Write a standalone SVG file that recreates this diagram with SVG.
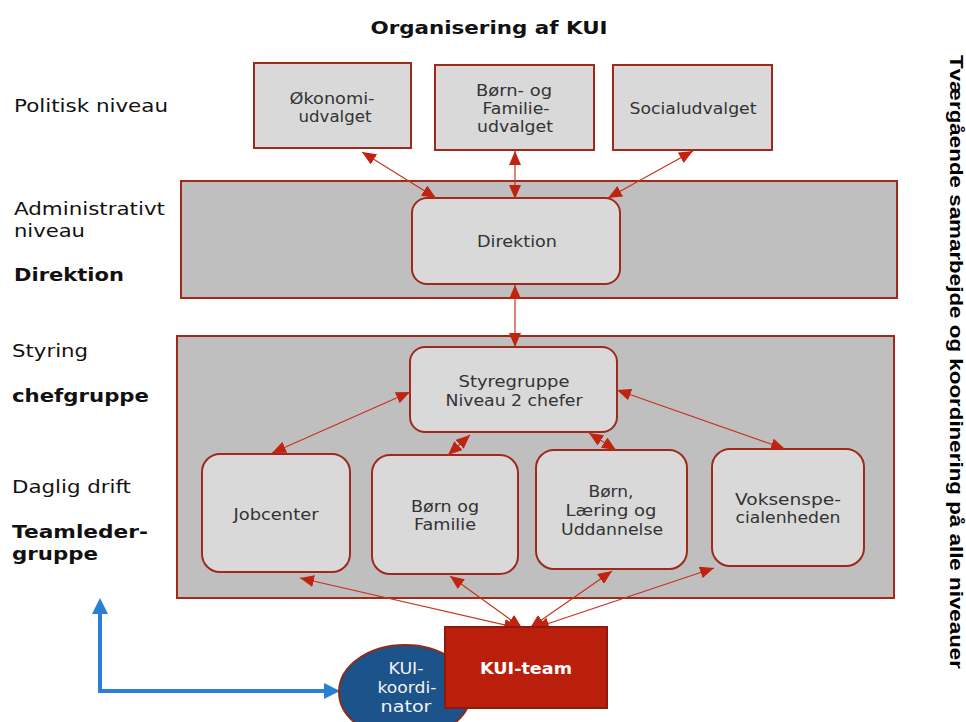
<svg xmlns="http://www.w3.org/2000/svg" width="966" height="722" viewBox="0 0 966 722">
<style>
.t{font-family:"DejaVu Sans",Verdana,sans-serif;fill:#333;font-size:15px;text-anchor:middle}
.w{fill:#f2f2f2}
.lbl{font-family:"DejaVu Sans",Verdana,sans-serif;fill:#111;font-size:18.5px}
.b{font-weight:bold}
.box{fill:#d9d9d9;stroke:#9e2a1c;stroke-width:2}
.band{fill:#bfbfbf;stroke:#9e2a1c;stroke-width:2}
.con{stroke:#c8321e;stroke-width:1.2;fill:none;marker-start:url(#ah);marker-end:url(#ah)}
</style>
<defs>
<marker id="ah" markerUnits="userSpaceOnUse" markerWidth="14" markerHeight="12" viewBox="0 0 14 12" refX="14" refY="6" orient="auto-start-reverse">
<path d="M0,0 L14,6 L0,12 Z" fill="#c0230f"/>
</marker>
</defs>
<rect width="966" height="722" fill="#fff"/>
<text x="489" y="34" class="lbl b" font-size="19" text-anchor="middle" textLength="237" lengthAdjust="spacingAndGlyphs">Organisering af KUI</text>
<g id="labels">
<text x="14" y="112" class="lbl" textLength="154" lengthAdjust="spacingAndGlyphs">Politisk niveau</text>
<text x="14" y="215" class="lbl" textLength="151" lengthAdjust="spacingAndGlyphs">Administrativt</text>
<text x="14" y="237" class="lbl" textLength="71" lengthAdjust="spacingAndGlyphs">niveau</text>
<text x="14" y="281" class="lbl b" textLength="110" lengthAdjust="spacingAndGlyphs">Direktion</text>
<text x="12" y="357" class="lbl" textLength="76" lengthAdjust="spacingAndGlyphs">Styring</text>
<text x="12" y="402" class="lbl b" textLength="137" lengthAdjust="spacingAndGlyphs">chefgruppe</text>
<text x="12" y="493" class="lbl" textLength="119" lengthAdjust="spacingAndGlyphs">Daglig drift</text>
<text x="12" y="538" class="lbl b" textLength="136" lengthAdjust="spacingAndGlyphs">Teamleder-</text>
<text x="12" y="560" class="lbl b" textLength="86" lengthAdjust="spacingAndGlyphs">gruppe</text>
</g>
<text transform="translate(950,362) rotate(90)" text-anchor="middle" font-family="'Liberation Sans',Arial,sans-serif" font-weight="bold" font-size="18" fill="#000" textLength="614" lengthAdjust="spacingAndGlyphs">Tværgående samarbejde og koordinering på alle niveauer</text>
<g id="band-admin"><rect x="181" y="181" width="716" height="117" class="band"/></g>
<g id="band-styring"><rect x="177" y="336" width="717" height="262" class="band"/></g>
<g id="okonomi"><rect x="254" y="63" width="157" height="85" class="box"/><text class="t" x="332" y="104" textLength="85" lengthAdjust="spacingAndGlyphs">Økonomi-</text><text class="t" x="335" y="122" textLength="73" lengthAdjust="spacingAndGlyphs">udvalget</text></g>
<g id="bornfam-udv"><rect x="435" y="65" width="159" height="85" class="box"/><text class="t" x="514" y="96" textLength="76" lengthAdjust="spacingAndGlyphs">Børn- og</text><text class="t" x="516" y="114" textLength="67" lengthAdjust="spacingAndGlyphs">Familie-</text><text class="t" x="515" y="132" textLength="76" lengthAdjust="spacingAndGlyphs">udvalget</text></g>
<g id="social"><rect x="613" y="65" width="159" height="85" class="box"/><text class="t" x="693" y="114" textLength="127" lengthAdjust="spacingAndGlyphs">Socialudvalget</text></g>
<g id="direktion"><rect x="412" y="198" width="208" height="86" rx="15" class="box"/><text class="t" x="517" y="247" textLength="80" lengthAdjust="spacingAndGlyphs">Direktion</text></g>
<g id="styregruppe"><rect x="410" y="347" width="207" height="85" rx="15" class="box"/><text class="t" x="514" y="387" textLength="111" lengthAdjust="spacingAndGlyphs">Styregruppe</text><text class="t" x="514" y="406" textLength="137" lengthAdjust="spacingAndGlyphs">Niveau 2 chefer</text></g>
<g id="jobcenter"><rect x="202" y="454" width="148" height="118" rx="18" class="box"/><text class="t" x="276" y="520" textLength="85" lengthAdjust="spacingAndGlyphs">Jobcenter</text></g>
<g id="bornfamilie"><rect x="372" y="455" width="146" height="119" rx="18" class="box"/><text class="t" x="445" y="512" textLength="68" lengthAdjust="spacingAndGlyphs">Børn og</text><text class="t" x="445" y="530" textLength="62" lengthAdjust="spacingAndGlyphs">Familie</text></g>
<g id="blu"><rect x="536" y="450" width="151" height="119" rx="18" class="box"/><text class="t" x="611" y="497" textLength="45" lengthAdjust="spacingAndGlyphs">Børn,</text><text class="t" x="611" y="516" textLength="91" lengthAdjust="spacingAndGlyphs">Læring og</text><text class="t" x="612" y="535" textLength="102" lengthAdjust="spacingAndGlyphs">Uddannelse</text></g>
<g id="voksen"><rect x="712" y="449" width="152" height="117" rx="18" class="box"/><text class="t" x="788" y="505" textLength="106" lengthAdjust="spacingAndGlyphs">Voksenspe-</text><text class="t" x="788" y="523" textLength="105" lengthAdjust="spacingAndGlyphs">cialenheden</text></g>
<g id="connectors">
<line x1="362" y1="152" x2="436" y2="198" class="con"/>
<line x1="515" y1="151" x2="515" y2="199" class="con"/>
<line x1="693" y1="151" x2="608" y2="198" class="con"/>
<line x1="515" y1="285" x2="515" y2="347" class="con"/>
<line x1="410" y1="392" x2="272" y2="453" class="con"/>
<line x1="470" y1="435" x2="448" y2="455" class="con"/>
<line x1="589" y1="433" x2="616" y2="450" class="con"/>
<line x1="617" y1="390" x2="785" y2="449" class="con"/>
<line x1="300" y1="578" x2="518" y2="628" class="con"/>
<line x1="450" y1="576" x2="522" y2="628" class="con"/>
<line x1="612" y1="571" x2="530" y2="628" class="con"/>
<line x1="714" y1="568" x2="535" y2="628" class="con"/>
<g id="blue-arrow">
<polyline points="100,612 100,691 326,691" fill="none" stroke="#2a7fd4" stroke-width="4"/>
<path d="M100,598 L108,614 L92,614 Z" fill="#2a7fd4"/>
<path d="M340,691 L324,683 L324,699 Z" fill="#2a7fd4"/>
</g>
</g>
<g id="kui-koordinator"><ellipse cx="405" cy="692" rx="66" ry="47" fill="#1b538a" stroke="#8e2a1e" stroke-width="2"/><text class="t w" x="406" y="674" textLength="35" lengthAdjust="spacingAndGlyphs">KUI-</text><text class="t w" x="407" y="693" textLength="59" lengthAdjust="spacingAndGlyphs">koordi-</text><text class="t w" x="406" y="712" textLength="51" lengthAdjust="spacingAndGlyphs">nator</text></g>
<g id="kui-team"><rect x="445" y="627" width="162" height="81" fill="#b91f0b" stroke="#8e1a0e" stroke-width="2"/><text class="t b" x="526" y="674" style="fill:#fff" font-size="15.5" textLength="92" lengthAdjust="spacingAndGlyphs">KUI-team</text></g>
</svg>
